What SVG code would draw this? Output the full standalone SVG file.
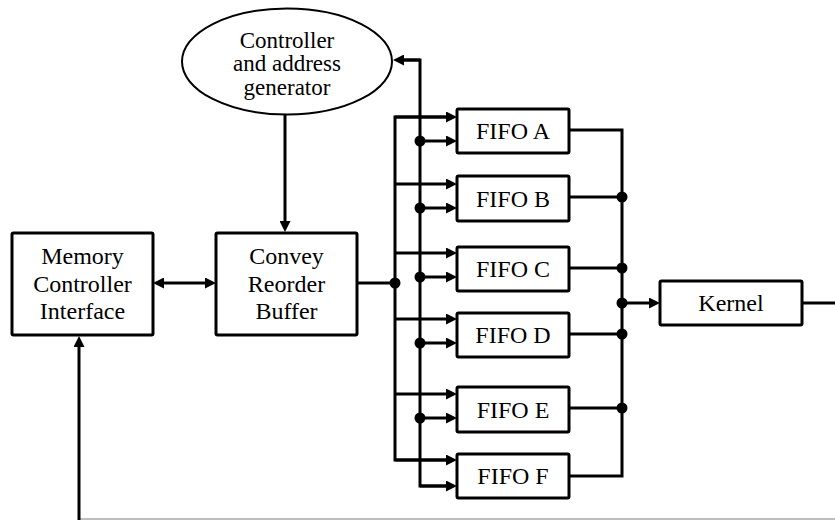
<svg xmlns="http://www.w3.org/2000/svg" width="835" height="520" viewBox="0 0 835 520">
  <style>
    .box { fill: #ffffff; stroke: #000000; stroke-width: 3; }
    .oval { fill: #ffffff; stroke: #000000; stroke-width: 2; }
    text { fill: #000000; text-anchor: middle; }
    .wire { fill: none; stroke: #000000; stroke-width: 3; stroke-linejoin: miter; }
    .arrow { marker-end: url(#head); }
    .dot { fill: #000000; }
    .rule { fill: none; stroke: #a8a8a8; stroke-width: 1.5; }
  </style>
  <defs>
    <marker id="head" markerUnits="userSpaceOnUse" markerWidth="11" markerHeight="11" refX="5" refY="5.5" orient="auto-start-reverse">
      <path d="M0,0 L11,5.5 L0,11 z" fill="#000000"/>
    </marker>
  </defs>

  <rect width="835" height="520" fill="#ffffff"/>

  <!-- connectors -->
  <g id="connectors">
    <!-- controller feeds the reorder buffer -->
    <path class="wire arrow" d="M285,115 L285,226"/>
    <!-- memory interface <-> reorder buffer -->
    <path class="wire" d="M159,283 L210,283" marker-start="url(#head)" marker-end="url(#head)"/>
    <!-- reorder buffer output onto the data bus -->
    <path class="wire" d="M357,283 L395,283"/>
    <!-- data bus -->
    <path class="wire" d="M451,117 L395,117 L395,460 L451,460"/>
    <path class="wire arrow" d="M395,117 L451,117"/>
    <path class="wire arrow" d="M395,184 L451,184"/>
    <path class="wire arrow" d="M395,253 L451,253"/>
    <path class="wire arrow" d="M395,319 L451,319"/>
    <path class="wire arrow" d="M395,394 L451,394"/>
    <path class="wire arrow" d="M395,460 L451,460"/>
    <!-- control bus, also returning to the controller -->
    <path class="wire" d="M451,486 L420,486 L420,60 L399,60"/>
    <path class="wire arrow" d="M420,60 L399,60"/>
    <path class="wire arrow" d="M420,141 L451,141"/>
    <path class="wire arrow" d="M420,208 L451,208"/>
    <path class="wire arrow" d="M420,277 L451,277"/>
    <path class="wire arrow" d="M420,343 L451,343"/>
    <path class="wire arrow" d="M420,418 L451,418"/>
    <path class="wire arrow" d="M420,486 L451,486"/>
    <!-- FIFO outputs merge into the kernel -->
    <path class="wire" d="M569,130 L622,130 L622,476 L569,476"/>
    <path class="wire" d="M569,197 L622,197"/>
    <path class="wire" d="M569,268 L622,268"/>
    <path class="wire" d="M569,334 L622,334"/>
    <path class="wire" d="M569,408 L622,408"/>
    <path class="wire arrow" d="M622,303 L654,303"/>
    <!-- kernel output and feedback to the memory interface -->
    <path class="wire" d="M802,303 L835,303"/>
    <path class="rule" d="M80,519 L835,519"/>
    <path class="wire arrow" d="M79,521 L79,342"/>
    <!-- junctions -->
    <circle class="dot" cx="395" cy="283" r="5.5"/>
    <circle class="dot" cx="420" cy="141" r="5.5"/>
    <circle class="dot" cx="420" cy="208" r="5.5"/>
    <circle class="dot" cx="420" cy="277" r="5.5"/>
    <circle class="dot" cx="420" cy="343" r="5.5"/>
    <circle class="dot" cx="420" cy="418" r="5.5"/>
    <circle class="dot" cx="622" cy="197" r="5.5"/>
    <circle class="dot" cx="622" cy="268" r="5.5"/>
    <circle class="dot" cx="622" cy="303" r="5.5"/>
    <circle class="dot" cx="622" cy="334" r="5.5"/>
    <circle class="dot" cx="622" cy="408" r="5.5"/>
  </g>

  <!-- nodes -->
  <g id="controller" font-family="'Liberation Serif', 'DejaVu Serif', serif" font-size="23">
    <ellipse class="oval" cx="287" cy="61.5" rx="105" ry="53"/>
    <text x="287" y="47.5">Controller</text>
    <text x="287" y="71">and address</text>
    <text x="287" y="94.5">generator</text>
  </g>

  <g id="memory" font-family="'Liberation Serif', 'DejaVu Serif', serif" font-size="24">
    <rect class="box" x="12" y="233" width="141" height="102" rx="1.5"/>
    <text x="82.5" y="264">Memory</text>
    <text x="82.5" y="291.5">Controller</text>
    <text x="82.5" y="319">Interface</text>
  </g>

  <g id="reorder" font-family="'Liberation Serif', 'DejaVu Serif', serif" font-size="24">
    <rect class="box" x="216" y="233" width="141" height="102" rx="1.5"/>
    <text x="286.5" y="264">Convey</text>
    <text x="286.5" y="291.5">Reorder</text>
    <text x="286.5" y="319">Buffer</text>
  </g>

  <g id="fifoA" font-family="'Liberation Serif', 'DejaVu Serif', serif" font-size="24">
    <rect class="box" x="457" y="109" width="112" height="44" rx="1.5"/>
    <text x="513" y="139">FIFO A</text>
  </g>
  <g id="fifoB" font-family="'Liberation Serif', 'DejaVu Serif', serif" font-size="24">
    <rect class="box" x="457" y="176" width="112" height="45" rx="1.5"/>
    <text x="513" y="206.5">FIFO B</text>
  </g>
  <g id="fifoC" font-family="'Liberation Serif', 'DejaVu Serif', serif" font-size="24">
    <rect class="box" x="457" y="247" width="112" height="44" rx="1.5"/>
    <text x="513" y="277">FIFO C</text>
  </g>
  <g id="fifoD" font-family="'Liberation Serif', 'DejaVu Serif', serif" font-size="24">
    <rect class="box" x="457" y="313" width="112" height="44" rx="1.5"/>
    <text x="513" y="343">FIFO D</text>
  </g>
  <g id="fifoE" font-family="'Liberation Serif', 'DejaVu Serif', serif" font-size="24">
    <rect class="box" x="457" y="387" width="112" height="45" rx="1.5"/>
    <text x="513" y="417.5">FIFO E</text>
  </g>
  <g id="fifoF" font-family="'Liberation Serif', 'DejaVu Serif', serif" font-size="24">
    <rect class="box" x="457" y="454" width="112" height="44" rx="1.5"/>
    <text x="513" y="484">FIFO F</text>
  </g>

  <g id="kernel" font-family="'Liberation Serif', 'DejaVu Serif', serif" font-size="24">
    <rect class="box" x="660" y="281" width="142" height="44" rx="1.5"/>
    <text x="731" y="311">Kernel</text>
  </g>
</svg>
